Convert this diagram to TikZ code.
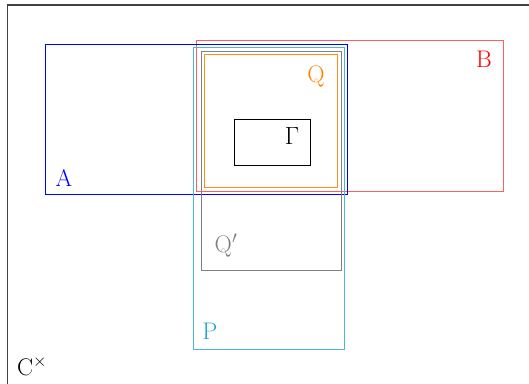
\documentclass[tikz,border=0pt]{standalone}
\definecolor{pcyan}{RGB}{30,165,205}
\definecolor{bred}{RGB}{255,40,40}
\definecolor{qorange}{RGB}{255,130,0}
\begin{document}
\begin{tikzpicture}[x=1pt,y=-1pt,
  box/.style={line width=0.9pt},
  lab/.style={inner sep=0pt,font=\fontsize{24}{28}\selectfont}]
\useasboundingbox (0,0) rectangle (529,383);
\clip (0,0) rectangle (529,383);
\draw[line width=1.1pt,black!75] (7.5,5) rectangle (560,420);
\draw[box,bred!75] (196,40) rectangle (503,191);
\draw[box,blue] (45,44) rectangle (347,194);
\draw[box,pcyan!80] (193,47) rectangle (344,349);
\draw[box,gray] (201,51) rectangle (341,270);
\draw[box,qorange!90] (204,54) rectangle (337,187);
\draw[box,black] (234,119) rectangle (310,165);
\node[lab,text=qorange] (q) at (316,76) {Q};
\node[lab] (g) at (292,136) {$\Gamma$};
\node[lab,text=blue] (a) at (64,178) {A};
\node[lab,text=red] (b) at (484,59) {B};
\node[lab,text=gray] (qp) at (226,246) {Q$'$};
\node[lab,text=pcyan] (p) at (210,331) {P};
\node[lab] (c) at (32,366) {C$^\times$};
\end{tikzpicture}
\end{document}
